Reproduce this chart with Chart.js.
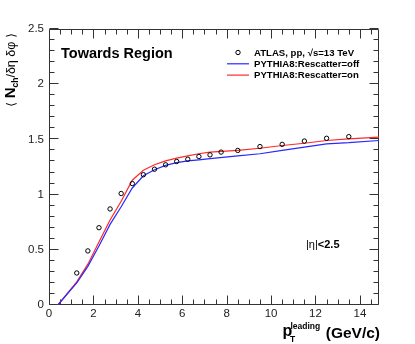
<!DOCTYPE html>
<html>
<head>
<meta charset="utf-8">
<script src="https://cdn.jsdelivr.net/npm/chart.js@4.4.1/dist/chart.umd.min.js"></script>
<style>
html,body{margin:0;padding:0;background:#fff;}
#wrap{width:415px;height:344px;position:relative;}
</style>
</head>
<body>
<div id="wrap"><canvas id="c" width="415" height="344"></canvas></div>
<script>
// ---- data ----
const atlasX = [1.25,1.75,2.25,2.75,3.25,3.75,4.25,4.75,5.25,5.75,6.25,6.75,7.25,7.75,8.5,9.5,10.5,11.5,12.5,13.5];
const atlasY = [0.29,0.49,0.70,0.87,1.01,1.10,1.18,1.23,1.27,1.30,1.32,1.345,1.36,1.385,1.40,1.435,1.455,1.485,1.51,1.525];
const pyX = [0.4,1.25,1.75,2.25,2.75,3.25,3.75,4.25,4.75,5.25,5.75,6.25,6.75,7.25,8.5,9.5,10.5,11.5,12.5,13.5,14.86];
const offY = [0,0.20,0.35,0.535,0.73,0.89,1.06,1.17,1.225,1.265,1.29,1.305,1.315,1.325,1.35,1.37,1.40,1.43,1.46,1.47,1.49];
const onY  = [0,0.21,0.37,0.57,0.77,0.94,1.13,1.22,1.27,1.305,1.33,1.35,1.37,1.385,1.40,1.42,1.445,1.465,1.49,1.505,1.52];
const xTicks = [0,2,4,6,8,10,12,14];
const xTickLabels = ['0','2','4','6','8','10','12','14'];
const yTicks = [0,0.5,1,1.5,2,2.5];
const yTickLabels = ['0','0.5','1','1.5','2','2.5'];
const xRange = [0,14.86];
const yRange = [0,2.5];
const xMinorStep = 0.5, yMinorStep = 0.1;
const legendLabels = ['ATLAS, pp, \u221As=13 TeV','PYTHIA8:Rescatter=off','PYTHIA8:Rescatter=on'];

const FONT = '"Liberation Sans", Arial, Helvetica, sans-serif';
const BLUE = 'rgb(40,40,255)';
const RED = 'rgb(255,40,40)';
const FRAME = '#333';

function pts(xs, ys){ return xs.map((x,i)=>({x:x,y:ys[i]})); }

const framePlugin = {
  id:'rootFrame',
  beforeDatasetsDraw(chart){
    const ctx = chart.ctx, a = chart.chartArea;
    const xs = chart.scales.x, ys = chart.scales.y;
    ctx.save();
    ctx.strokeStyle = FRAME;
    ctx.lineWidth = 1;
    const L = Math.round(a.left)+0.5, R = Math.round(a.right)-0.5, T = Math.round(a.top)+0.5, B = Math.round(a.bottom)-0.5;
    ctx.beginPath();
    ctx.moveTo(L,T); ctx.lineTo(R,T); ctx.lineTo(R,B); ctx.lineTo(L,B); ctx.closePath();
    const nx = Math.floor((xRange[1]-xRange[0])/xMinorStep+1e-6);
    for(let i=0;i<=nx;i++){
      const v = xRange[0]+i*xMinorStep;
      const major = Math.abs(v/2-Math.round(v/2))<1e-6;
      const len = major?9:5;
      const px = Math.round(xs.getPixelForValue(v))+0.5;
      ctx.moveTo(px, B); ctx.lineTo(px, B-len);
      ctx.moveTo(px, T); ctx.lineTo(px, T+len);
    }
    const ny = Math.round((yRange[1]-yRange[0])/yMinorStep);
    for(let i=0;i<=ny;i++){
      const v = yRange[0]+i*yMinorStep;
      const major = (i%5)===0;
      const len = major?9:5;
      const py = Math.round(ys.getPixelForValue(v))-0.5;
      ctx.moveTo(L, py); ctx.lineTo(L+len, py);
      ctx.moveTo(R, py); ctx.lineTo(R-len, py);
    }
    ctx.stroke();
    ctx.restore();
  }
};

const textPlugin = {
  id:'rootText',
  afterDraw(chart){
    const ctx = chart.ctx, a = chart.chartArea;
    const ys = chart.scales.y;
    ctx.save();
    ctx.fillStyle = '#000';
    ctx.textBaseline = 'middle';
    ctx.textAlign = 'left';
    ctx.font = 'bold 14.5px '+FONT;
    ctx.fillText('Towards Region', a.left+12, a.top+25);

    // legend
    const lx = a.left+178, ly0 = a.top+23.5, dy = 11.3;
    ctx.font = 'bold 9.6px '+FONT;
    ctx.beginPath();
    ctx.strokeStyle = '#000'; ctx.lineWidth = 1;
    ctx.arc(lx+11, ly0, 2.2, 0, Math.PI*2);
    ctx.stroke();
    ctx.lineWidth = 1.2;
    ctx.strokeStyle = BLUE;
    ctx.beginPath(); ctx.moveTo(lx, ly0+dy); ctx.lineTo(lx+22, ly0+dy); ctx.stroke();
    ctx.strokeStyle = RED;
    ctx.beginPath(); ctx.moveTo(lx, ly0+2*dy); ctx.lineTo(lx+22, ly0+2*dy); ctx.stroke();
    for(let i=0;i<3;i++) ctx.fillText(legendLabels[i], lx+27, ly0+i*dy+0.5);

    // |eta|<2.5
    ctx.font = '11px '+FONT;
    const t1 = '|\u03b7|';
    ctx.fillText(t1, 306, ys.getPixelForValue(0.545));
    const w1 = ctx.measureText(t1).width;
    ctx.font = 'bold 11px '+FONT;
    ctx.fillText('<2.5', 306+w1, ys.getPixelForValue(0.545));

    // x title
    ctx.textBaseline = 'alphabetic';
    ctx.font = 'bold 15.5px '+FONT;
    ctx.textAlign = 'right';
    ctx.fillText('(GeV/c)', a.right+1, 338);
    ctx.textAlign = 'left';
    ctx.font = 'bold 16px '+FONT;
    ctx.fillText('p', 282.5, 335.5);
    ctx.font = 'bold 8.5px '+FONT;
    ctx.fillText('leading', 290.5, 328.5);
    ctx.fillText('T', 290, 341.5);

    // y title (rotated)
    ctx.save();
    ctx.translate(15, 70);
    ctx.rotate(-Math.PI/2);
    const parts = [
      {t:'\u27e8 ', f:'12px "DejaVu Sans", '+FONT, dy:0},
      {t:'N', f:'bold 15px '+FONT, dy:0},
      {t:'ch', f:'bold 8.5px '+FONT, dy:3},
      {t:'/\u03b4\u03b7 \u03b4\u03c6', f:'12.5px '+FONT, dy:0},
      {t:' \u27e9', f:'12px "DejaVu Sans", '+FONT, dy:0}
    ];
    let tot = 0;
    parts.forEach(p=>{ctx.font=p.f; p.w=ctx.measureText(p.t).width; tot+=p.w;});
    let cx = -tot/2;
    parts.forEach(p=>{ctx.font=p.f; ctx.fillText(p.t, cx, p.dy); cx+=p.w;});
    ctx.restore();

    ctx.restore();
  }
};

new Chart(document.getElementById('c'), {
  type:'scatter',
  data:{
    datasets:[
      {label:legendLabels[1], data:pts(pyX,offY), showLine:true, borderColor:BLUE, borderWidth:1.2, pointRadius:0, fill:false, tension:0, order:2},
      {label:legendLabels[2], data:pts(pyX,onY), showLine:true, borderColor:RED, borderWidth:1.2, pointRadius:0, fill:false, tension:0, order:3},
      {label:legendLabels[0], data:pts(atlasX,atlasY), showLine:false, pointRadius:2.2, pointStyle:'circle', borderColor:'#000', borderWidth:1, backgroundColor:'rgba(0,0,0,0)', order:1}
    ]
  },
  options:{
    responsive:false,
    animation:false,
    devicePixelRatio:1,
    layout:{padding:{left:0,right:36,top:29,bottom:0}},
    plugins:{legend:{display:false}, tooltip:{enabled:false}},
    scales:{
      x:{type:'linear', min:xRange[0], max:xRange[1],
        grid:{display:false, drawTicks:false}, border:{display:false},
        afterBuildTicks(s){ s.ticks = xTicks.map(v=>({value:v})); },
        afterFit(s){ s.height = 39; },
        ticks:{padding:2, color:'#222', font:{family:FONT,size:11.5}, maxRotation:0, autoSkip:false,
          callback:(v)=>{const i=xTicks.indexOf(v); return i>=0?xTickLabels[i]:'';}}
      },
      y:{type:'linear', min:yRange[0], max:yRange[1],
        grid:{display:false, drawTicks:false}, border:{display:false},
        afterBuildTicks(s){ s.ticks = yTicks.map(v=>({value:v})); },
        afterFit(s){ s.width = 49; },
        ticks:{padding:5, color:'#222', font:{family:FONT,size:11.5}, autoSkip:false,
          callback:(v)=>{const i=yTicks.indexOf(v); return i>=0?yTickLabels[i]:'';}}
      }
    }
  },
  plugins:[framePlugin, textPlugin]
});
</script>
</body>
</html>
